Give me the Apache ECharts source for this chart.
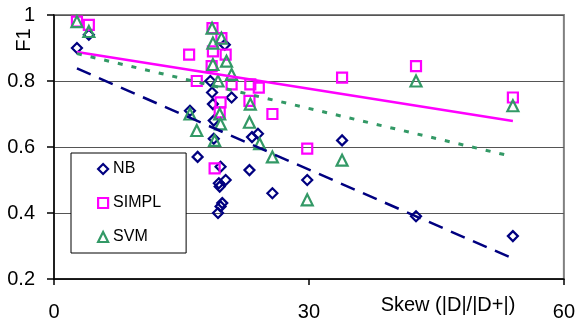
<!DOCTYPE html>
<html>
<head>
<meta charset="utf-8">
<script src="https://cdn.jsdelivr.net/npm/echarts@6/dist/echarts.min.js"></script>
<style>
html,body{margin:0;padding:0;background:#fff;}
#chart{width:578px;height:327px;}
</style>
</head>
<body>
<div id="chart"></div>
<script>
// ---- data ----
var nbX = [2.7, 4.1, 16.0, 16.9, 20.1, 18.4, 18.6, 18.7, 20.9, 18.8, 18.8, 23.3, 24.0, 19.6, 19.4, 20.2, 19.5, 19.8, 19.6, 19.3, 23.0, 25.7, 29.8, 33.9, 42.6, 54.0];
var nbY = [0.90, 0.94, 0.71, 0.57, 0.91, 0.80, 0.765, 0.73, 0.75, 0.68, 0.625, 0.63, 0.64, 0.54, 0.49, 0.50, 0.48, 0.43, 0.42, 0.40, 0.53, 0.46, 0.50, 0.62, 0.39, 0.33];

var simplX = [2.7, 4.1, 15.9, 16.8, 18.65, 19.7, 18.7, 20.2, 18.55, 20.9, 23.1, 24.1, 23.0, 19.6, 19.5, 25.7, 18.9, 29.8, 33.9, 42.6, 54.0];
var simplY = [0.98, 0.97, 0.88, 0.80, 0.96, 0.93, 0.89, 0.88, 0.845, 0.79, 0.79, 0.78, 0.74, 0.735, 0.705, 0.70, 0.535, 0.595, 0.81, 0.845, 0.75];

var svmX = [2.7, 4.1, 18.6, 19.7, 18.7, 20.3, 18.7, 20.9, 19.3, 16.0, 16.8, 19.5, 19.6, 18.9, 23.1, 23.0, 24.2, 25.7, 29.8, 33.9, 42.6, 54.0];
var svmY = [0.98, 0.95, 0.96, 0.93, 0.915, 0.86, 0.85, 0.82, 0.80, 0.70, 0.65, 0.70, 0.67, 0.62, 0.73, 0.675, 0.61, 0.57, 0.44, 0.56, 0.80, 0.725];

// trend lines (endpoints)
var nbTrendX = [2.7, 54.0];
var nbTrendY = [0.838, 0.262];
var simplTrendX = [2.7, 54.0];
var simplTrendY = [0.888, 0.679];
var svmTrendX = [2.7, 53.8];
var svmTrendY = [0.883, 0.572];

var seriesNames = ['NB', 'SIMPL', 'SVM'];
var xTitle = 'Skew (|D|/|D+|)';
var yTitle = 'F1';
var xTicks = [0, 30, 60];
var yTicks = [0.2, 0.4, 0.6, 0.8, 1];

function pairs(xs, ys){ return xs.map(function(x,i){ return [x, ys[i]]; }); }

var FONT = "'Liberation Sans', Arial, sans-serif";
var NAVY = '#000080', MAG = '#FF00FF', GREEN = '#339966';

var chart = echarts.init(document.getElementById('chart'), null, {renderer:'canvas'});
chart.setOption({
  animation: false,
  backgroundColor: '#fff',
  grid: {left: 54, top: 15, right: 14, bottom: 48, show: true, borderColor: '#808080', borderWidth: 2, backgroundColor: 'transparent'},
  xAxis: {
    type: 'value', min: xTicks[0], max: xTicks[xTicks.length-1], interval: 30,
    axisLine: {show: true, onZero: false, lineStyle: {color: '#000', width: 1.5}},
    axisTick: {show: true, inside: false, length: 6, lineStyle: {color: '#000', width: 1.5}},
    axisLabel: {color: '#000', fontSize: 20, fontFamily: FONT, margin: 23},
    splitLine: {show: false}
  },
  yAxis: {
    type: 'value', min: yTicks[0], max: yTicks[yTicks.length-1], interval: 0.2,
    axisLine: {show: true, onZero: false, lineStyle: {color: '#000', width: 1.5}},
    axisTick: {show: true, inside: false, length: 7, lineStyle: {color: '#000', width: 1.5}},
    axisLabel: {color: '#000', fontSize: 20, fontFamily: FONT, margin: 19,
      formatter: function(v){ return String(Math.round(v*10)/10); }},
    splitLine: {show: true, lineStyle: {color: '#555', width: 1}}
  },
  graphic: [{
    type: 'text', x: 24, y: 40, rotation: Math.PI/2,
    style: {text: yTitle, fontSize: 20, fontFamily: FONT, fill: '#000', textAlign: 'center', textVerticalAlign: 'middle'}
  }, {
    type: 'text', x: 448, y: 305,
    style: {text: xTitle, fontSize: 20, fontFamily: FONT, fill: '#000', textAlign: 'center', textVerticalAlign: 'middle'}
  }],
  legend: {
    orient: 'vertical', left: 71, top: 153,
    itemWidth: 10, itemHeight: 10, itemGap: 18,
    padding: [8, 25, 8, 26],
    borderColor: '#000', borderWidth: 1, backgroundColor: '#fff',
    textStyle: {color: '#000', fontSize: 16, fontFamily: FONT},
    data: [
      {name: seriesNames[0], icon: 'diamond', itemStyle: {color: 'rgba(0,0,0,0)', borderColor: NAVY, borderWidth: 2.2, opacity: 1}},
      {name: seriesNames[1], icon: 'rect', itemStyle: {color: 'rgba(0,0,0,0)', borderColor: MAG, borderWidth: 2.2, opacity: 1}},
      {name: seriesNames[2], icon: 'triangle', itemStyle: {color: 'rgba(0,0,0,0)', borderColor: GREEN, borderWidth: 2.2, opacity: 1}}
    ]
  },
  series: [
    {name: seriesNames[0], type: 'scatter', symbol: 'diamond', symbolSize: 10, z: 3,
     itemStyle: {color: 'rgba(0,0,0,0)', borderColor: NAVY, borderWidth: 2.2, opacity: 1}, data: pairs(nbX, nbY)},
    {name: seriesNames[1], type: 'scatter', symbol: 'rect', symbolSize: 10, z: 4,
     itemStyle: {color: 'rgba(0,0,0,0)', borderColor: MAG, borderWidth: 2.2, opacity: 1}, data: pairs(simplX, simplY)},
    {name: seriesNames[2], type: 'scatter', symbol: 'triangle', symbolSize: 11, z: 5,
     itemStyle: {color: 'rgba(0,0,0,0)', borderColor: GREEN, borderWidth: 2.2, opacity: 1}, data: pairs(svmX, svmY)},
    {name: 'NB trend', type: 'line', showSymbol: false, symbol: 'none', z: 6, silent: true,
     lineStyle: {color: NAVY, width: 2.5, type: [15, 9]}, data: pairs(nbTrendX, nbTrendY)},
    {name: 'SIMPL trend', type: 'line', showSymbol: false, symbol: 'none', z: 6, silent: true,
     lineStyle: {color: MAG, width: 2.5, type: 'solid'}, data: pairs(simplTrendX, simplTrendY)},
    {name: 'SVM trend', type: 'line', showSymbol: false, symbol: 'none', z: 6, silent: true,
     lineStyle: {color: GREEN, width: 3, type: [5, 9]}, data: pairs(svmTrendX, svmTrendY)}
  ]
});
</script>
</body>
</html>
